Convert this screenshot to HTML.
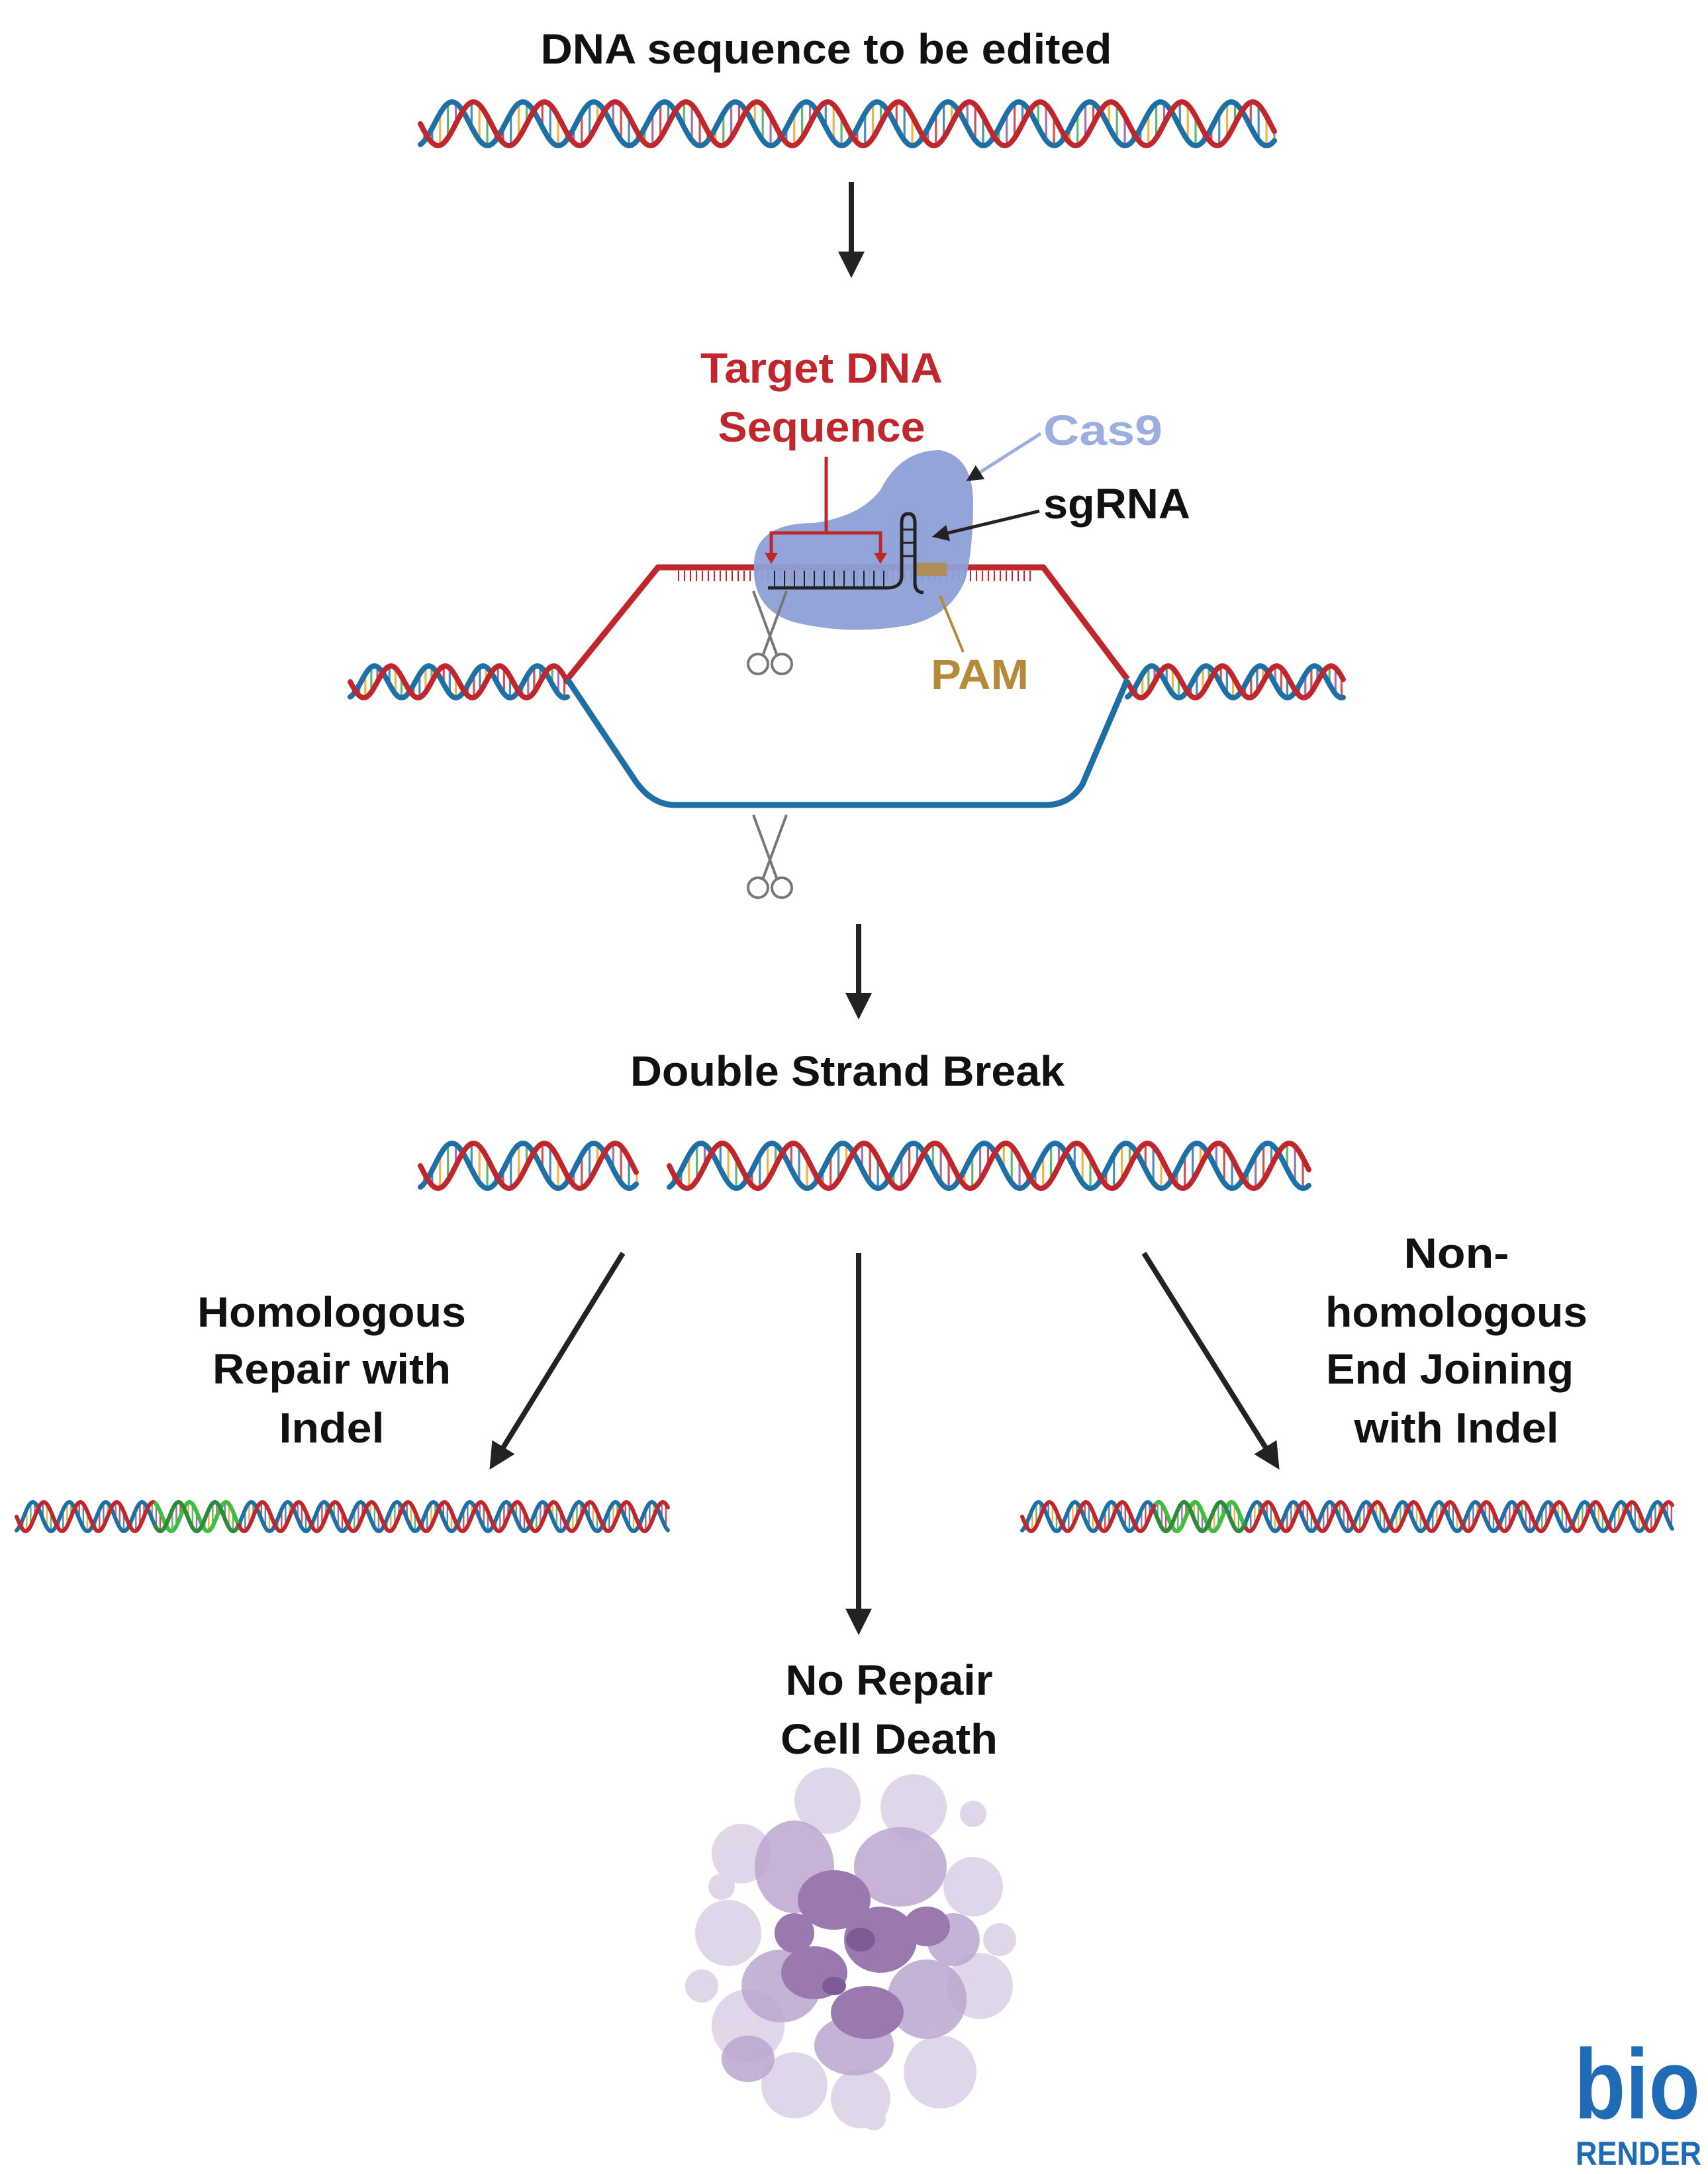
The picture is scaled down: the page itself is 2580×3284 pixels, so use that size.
<!DOCTYPE html>
<html><head><meta charset="utf-8">
<style>
html,body{margin:0;padding:0;background:#fff;}
svg{display:block;}
text{font-family:"Liberation Sans",sans-serif;font-weight:bold;}
</style></head>
<body>
<svg id="s" width="2580" height="3284" viewBox="0 0 2580 3284" xmlns="http://www.w3.org/2000/svg">
<defs>
<marker id="ah" viewBox="0 0 10 10" refX="5" refY="5" markerWidth="5" markerHeight="5" orient="auto-start-reverse">
<path d="M0,0 L10,5 L0,10 z" fill="#222"/>
</marker>
</defs>
<rect width="2580" height="3284" fill="#fff"/>
<g id="helices"></g>

<!-- Title -->
<text x="1248" y="96" font-size="64" text-anchor="middle" textLength="863" lengthAdjust="spacingAndGlyphs" fill="#111">DNA sequence to be edited</text>

<!-- arrow 1 -->
<line x1="1286" y1="275" x2="1286" y2="400" stroke="#222" stroke-width="8" marker-end="url(#ah)"/>

<!-- bubble -->
<path d="M857,1026 L994,857 L1576,857 L1703,1026" fill="none" stroke="#c0272d" stroke-width="9" stroke-linejoin="round"/>
<path d="M857,1026 L960,1180 Q985,1216 1020,1216 L1580,1216 Q1615,1216 1635,1185 L1703,1026" fill="none" stroke="#1e6fa6" stroke-width="9" stroke-linejoin="round"/>
<!-- red ticks on top strand -->
<g id="ticks" stroke="#c0272d" stroke-width="2"></g>

<!-- Cas9 blob -->
<path d="M1140,840 Q1150,790 1230,790 Q1300,780 1330,740 Q1360,680 1420,680 Q1470,690 1470,760 Q1470,820 1460,870 Q1440,930 1370,945 Q1280,960 1200,940 Q1130,920 1140,840 z" fill="#8d9fd6" opacity="0.95"/>
<!-- sgRNA -->
<path d="M1160,888 L1340,888 Q1362,888 1362,870 L1362,790 Q1362,776 1372,776 Q1382,776 1382,790 L1382,880 Q1382,895 1395,895" fill="none" stroke="#222" stroke-width="5"/>
<line x1="1362" y1="800" x2="1382" y2="800" stroke="#222" stroke-width="3"/>
<line x1="1362" y1="820" x2="1382" y2="820" stroke="#222" stroke-width="3"/>
<line x1="1362" y1="840" x2="1382" y2="840" stroke="#222" stroke-width="3"/>
<g stroke="#222" stroke-width="2">
<line x1="1170" y1="862" x2="1170" y2="888"/><line x1="1185" y1="862" x2="1185" y2="888"/><line x1="1200" y1="862" x2="1200" y2="888"/><line x1="1215" y1="862" x2="1215" y2="888"/><line x1="1230" y1="862" x2="1230" y2="888"/><line x1="1245" y1="862" x2="1245" y2="888"/><line x1="1260" y1="862" x2="1260" y2="888"/><line x1="1275" y1="862" x2="1275" y2="888"/><line x1="1290" y1="862" x2="1290" y2="888"/><line x1="1305" y1="862" x2="1305" y2="888"/><line x1="1320" y1="862" x2="1320" y2="888"/><line x1="1335" y1="862" x2="1335" y2="888"/>
</g>
<rect x="1385" y="850" width="45" height="20" fill="#b5893a" opacity="0.8"/>
<!-- bracket -->
<path d="M1165,845 L1165,805 L1330,805 L1330,845" fill="none" stroke="#c0272d" stroke-width="5"/>
<path d="M1155,835 L1165,852 L1175,835 z M1320,835 L1330,852 L1340,835 z" fill="#c0272d"/>
<line x1="1248" y1="805" x2="1248" y2="690" stroke="#c0272d" stroke-width="5"/>

<!-- labels -->
<text x="1241" y="578" font-size="64" text-anchor="middle" textLength="366" lengthAdjust="spacingAndGlyphs" fill="#c0272d">Target DNA</text>
<text x="1241" y="667" font-size="64" text-anchor="middle" textLength="313" lengthAdjust="spacingAndGlyphs" fill="#c0272d">Sequence</text>
<text x="1576" y="672" font-size="64" textLength="180" lengthAdjust="spacingAndGlyphs" fill="#9aaee0">Cas9</text>
<line x1="1572" y1="655" x2="1470" y2="720" stroke="#9aaee0" stroke-width="5" marker-end="url(#ah)"/>
<text x="1576" y="783" font-size="64" textLength="222" lengthAdjust="spacingAndGlyphs" fill="#111">sgRNA</text>
<line x1="1570" y1="772" x2="1420" y2="808" stroke="#222" stroke-width="5" marker-end="url(#ah)"/>
<text x="1406" y="1041" font-size="64" textLength="148" lengthAdjust="spacingAndGlyphs" fill="#b5893a">PAM</text>
<line x1="1455" y1="985" x2="1420" y2="900" stroke="#b5893a" stroke-width="4"/>

<!-- scissors -->
<g id="sc1" transform="translate(1163,973)" fill="none" stroke="#777" stroke-width="4">
<line x1="-25" y1="-80" x2="10" y2="15"/><line x1="25" y1="-80" x2="-10" y2="15"/>
<circle cx="-18" cy="30" r="15"/><circle cx="18" cy="30" r="15"/>
</g>
<g transform="translate(1163,1311)" fill="none" stroke="#777" stroke-width="4">
<line x1="-25" y1="-80" x2="10" y2="15"/><line x1="25" y1="-80" x2="-10" y2="15"/>
<circle cx="-18" cy="30" r="15"/><circle cx="18" cy="30" r="15"/>
</g>

<!-- arrow 2 -->
<line x1="1297" y1="1396" x2="1297" y2="1520" stroke="#222" stroke-width="8" marker-end="url(#ah)"/>
<text x="1280" y="1640" font-size="64" text-anchor="middle" textLength="656" lengthAdjust="spacingAndGlyphs" fill="#111">Double Strand Break</text>

<!-- branch arrows -->
<line x1="941" y1="1893" x2="750" y2="2203" stroke="#222" stroke-width="8" marker-end="url(#ah)"/>
<line x1="1297" y1="1893" x2="1297" y2="2450" stroke="#222" stroke-width="8" marker-end="url(#ah)"/>
<line x1="1728" y1="1893" x2="1922" y2="2203" stroke="#222" stroke-width="8" marker-end="url(#ah)"/>

<g font-size="64" text-anchor="middle" fill="#111">
<text x="501" y="2004" textLength="406" lengthAdjust="spacingAndGlyphs">Homologous</text>
<text x="501" y="2090" textLength="360" lengthAdjust="spacingAndGlyphs">Repair with</text>
<text x="501" y="2179" textLength="159" lengthAdjust="spacingAndGlyphs">Indel</text>
<text x="2200" y="1915" textLength="159" lengthAdjust="spacingAndGlyphs">Non-</text>
<text x="2200" y="2004" textLength="396" lengthAdjust="spacingAndGlyphs">homologous</text>
<text x="2190" y="2090" textLength="374" lengthAdjust="spacingAndGlyphs">End Joining</text>
<text x="2200" y="2179" textLength="309" lengthAdjust="spacingAndGlyphs">with Indel</text>
<text x="1343" y="2560" textLength="313" lengthAdjust="spacingAndGlyphs">No Repair</text>
<text x="1343" y="2649" textLength="328" lengthAdjust="spacingAndGlyphs">Cell Death</text>
</g>

<!-- cell death -->
<g id="cell">
<g fill="#d9cde4" opacity="0.8">
<circle cx="1120" cy="2800" r="45"/><circle cx="1100" cy="2920" r="50"/><circle cx="1130" cy="3060" r="55"/>
<circle cx="1200" cy="3150" r="50"/><circle cx="1300" cy="3170" r="45"/><circle cx="1420" cy="3130" r="55"/>
<circle cx="1480" cy="3000" r="50"/><circle cx="1470" cy="2850" r="45"/><circle cx="1380" cy="2730" r="50"/>
<circle cx="1250" cy="2720" r="50"/><circle cx="1060" cy="3000" r="25"/><circle cx="1510" cy="2930" r="25"/>
<circle cx="1090" cy="2850" r="20"/><circle cx="1320" cy="3200" r="18"/><circle cx="1470" cy="2740" r="20"/>
</g>
<g fill="#bca6cf" opacity="0.85">
<ellipse cx="1200" cy="2820" rx="60" ry="70"/><ellipse cx="1360" cy="2820" rx="70" ry="60"/>
<ellipse cx="1180" cy="3000" rx="60" ry="55"/><ellipse cx="1400" cy="3020" rx="60" ry="60"/>
<ellipse cx="1290" cy="3090" rx="60" ry="45"/><ellipse cx="1130" cy="3110" rx="40" ry="35"/>
<ellipse cx="1440" cy="2930" rx="40" ry="40"/>
</g>
<g fill="#9a78b0">
<ellipse cx="1260" cy="2870" rx="55" ry="45"/><ellipse cx="1330" cy="2930" rx="55" ry="50"/>
<ellipse cx="1230" cy="2980" rx="50" ry="40"/><ellipse cx="1310" cy="3040" rx="55" ry="40"/>
<ellipse cx="1400" cy="2910" rx="35" ry="30"/><ellipse cx="1200" cy="2920" rx="30" ry="30"/>
</g>
<g fill="#7d5b96"><ellipse cx="1300" cy="2930" rx="22" ry="18"/><ellipse cx="1260" cy="3000" rx="18" ry="14"/></g>
</g>

<!-- BioRender logo -->
<text x="2378" y="3200" font-size="150" fill="#1f6bb5" textLength="190" lengthAdjust="spacingAndGlyphs">bio</text>
<text x="2380" y="3270" font-size="50" fill="#1f6bb5" textLength="190" lengthAdjust="spacingAndGlyphs">RENDER</text>
</svg>
<script>
(function(){
var NS="http://www.w3.org/2000/svg";
var g=document.getElementById("helices");
function el(n,a){var e=document.createElementNS(NS,n);for(var k in a)e.setAttribute(k,a[k]);g.appendChild(e);return e;}
var rungCols=["#c0272d","#1e6fa6","#e8a21c","#3aa648","#8a4fa0"];
function helix(x0,x1,cy,A,P,sw,green){
  var ph=1.9,red="",blue="",i,x,t;
  var step=2;
  // rungs
  var rs=P/9, k=0;
  for(x=x0+rs/2;x<x1;x+=rs,k++){
    t=2*Math.PI*(x-x0)/P;
    var y1=cy+A*Math.sin(t), y2=cy+A*Math.sin(t+ph);
    el("line",{x1:x,y1:y1,x2:x,y2:y2,stroke:rungCols[k%5],"stroke-width":Math.max(2,sw*0.4),opacity:0.8});
  }
  function path(off,col){
    var d="";
    for(x=x0;x<=x1;x+=step){t=2*Math.PI*(x-x0)/P;d+=(x==x0?"M":"L")+x.toFixed(1)+","+(cy+A*Math.sin(t+off)).toFixed(1);}
    el("path",{d:d,fill:"none",stroke:col,"stroke-width":sw,"stroke-linecap":"round"});
  }
  path(ph,"#1e6fa6");path(0,"#c0272d");
  if(green){
    var dg="";
    for(x=green[0];x<=green[1];x+=step){t=2*Math.PI*(x-x0)/P;dg+=(x==green[0]?"M":"L")+x+","+(cy+A*Math.sin(t)).toFixed(1);}
    el("path",{d:dg,fill:"none",stroke:"#3fbf3f","stroke-width":sw});
    dg="";
    for(x=green[0];x<=green[1];x+=step){t=2*Math.PI*(x-x0)/P;dg+=(x==green[0]?"M":"L")+x+","+(cy+A*Math.sin(t+ph)).toFixed(1);}
    el("path",{d:dg,fill:"none",stroke:"#2e8b3a","stroke-width":sw});
  }
}
helix(635,1925,187,33,107,8);
helix(529,857,1030,24,82,8);
helix(1703,2030,1030,24,82,8);
helix(635,962,1761,34,107,8);
helix(1011,1978,1761,34,107,8);
helix(25,1009,2291,22,55,6,[233,360]);
helix(1544,2527,2291,22,55,6,[1745,1882]);
var tk=document.getElementById("ticks");
for(var x=1025;x<1560;x+=9){var l=document.createElementNS(NS,"line");l.setAttribute("x1",x);l.setAttribute("x2",x);l.setAttribute("y1",862);l.setAttribute("y2",878);tk.appendChild(l);}
})();
</script>
</body></html>
